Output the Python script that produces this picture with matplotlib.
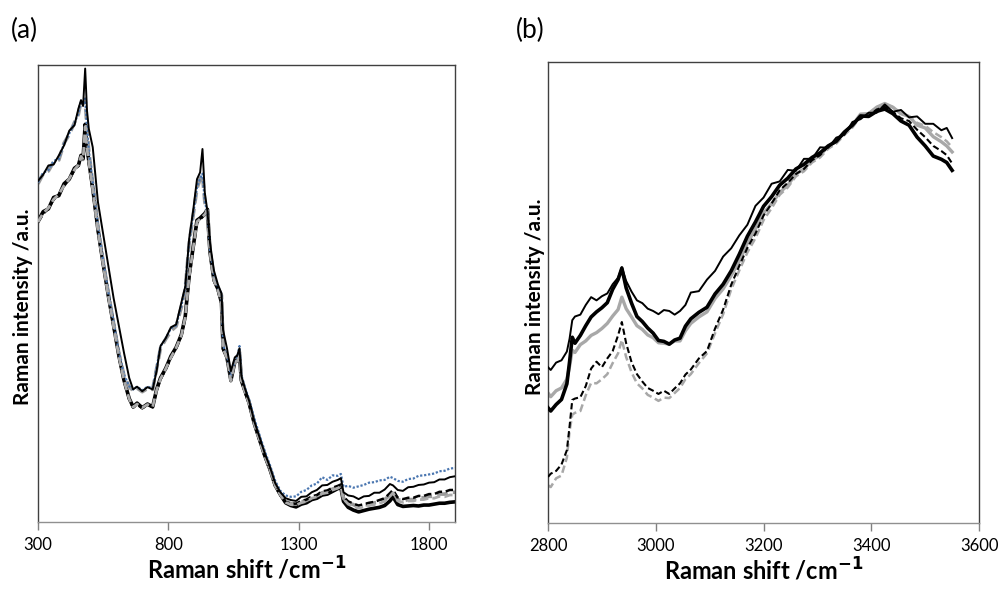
import matplotlib
matplotlib.use("Agg")
import matplotlib.pyplot as plt

plt.rcParams['font.family'] = ['Lato', 'DejaVu Sans']

# ---------------- Panel (a) data ----------------
a_shift = [300, 320, 340, 360, 380, 400, 420, 440, 455, 465, 473, 481, 488, 495,
           510, 530, 550, 570, 590, 610, 630, 650, 665, 680, 700, 720, 740, 755,
           770, 790, 810, 830, 850, 865, 880, 895, 910, 922, 931, 940, 950, 960,
           975, 990, 1004, 1010, 1025, 1040, 1055, 1065, 1073, 1080, 1095, 1110,
           1130, 1150, 1170, 1190, 1210, 1230, 1250, 1270, 1290, 1310, 1330, 1350,
           1370, 1390, 1410, 1430, 1450, 1462, 1472, 1490, 1510, 1530, 1550, 1570,
           1590, 1610, 1630, 1650, 1662, 1680, 1700, 1720, 1740, 1760, 1780, 1800,
           1820, 1840, 1860, 1880, 1900]

# thin black solid (upper group)
a_black_thin = [74.6, 76.0, 78.0, 78.2, 80.2, 82.4, 85.6, 86.8, 90.4, 92.3, 91.0, 99.2, 90.0, 86.0,
                82.0, 70.0, 63.0, 56.0, 49.0, 43.0, 37.0, 31.5, 29.0, 29.6, 28.6, 29.5, 29.0, 33.0,
                38.5, 40.2, 42.6, 43.2, 48.0, 51.5, 62.0, 68.0, 75.0, 76.5, 81.6, 72.0, 68.0, 61.0,
                55.0, 52.0, 50.0, 42.0, 38.0, 33.0, 36.0, 36.5, 38.0, 32.0, 29.0, 26.5,
                22.0, 18.5, 15.0, 12.0, 8.5, 6.5, 5.2, 4.8, 4.6, 5.5, 5.6, 6.5,
                7.0, 8.0, 8.1, 8.8, 9.2, 9.6, 6.5, 5.8, 5.6, 5.0, 5.6, 5.7,
                6.4, 6.4, 7.1, 8.3, 8.0, 7.0, 6.8, 7.6, 7.7, 8.1, 8.2, 8.6,
                8.7, 9.3, 9.3, 9.8, 10.0]

# blue dotted (upper group)
a_blue = [74.3, 76.4, 77.0, 79.0, 79.4, 82.8, 85.0, 87.3, 89.4, 92.1, 91.4, 92.6, 86.2, 81.2,
          74.3, 64.8, 57.3, 50.3, 43.8, 37.3, 32.2, 29.7, 29.0, 29.6, 28.8, 29.6, 29.3, 33.8,
          38.4, 40.2, 42.4, 43.0, 47.3, 51.3, 61.2, 67.2, 73.2, 75.2, 76.2, 70.2, 67.5, 59.6,
          54.0, 51.5, 50.0, 38.6, 36.5, 32.0, 35.6, 36.2, 38.5, 32.2, 29.2, 26.8,
          22.6, 19.0, 15.5, 12.4, 9.0, 6.8, 5.8, 5.5, 5.6, 6.6, 7.0, 8.0,
          8.4, 9.8, 9.2, 10.2, 10.1, 10.5, 7.7, 7.9, 7.5, 7.8, 8.1, 8.6,
          8.7, 9.1, 9.2, 9.9, 9.6, 9.0, 8.8, 9.4, 9.5, 10.1, 10.2, 10.4,
          10.6, 11.1, 11.2, 11.7, 11.8]

# grey dashed (upper group)
a_grey_up = [74.0, 76.2, 76.8, 78.8, 79.2, 82.9, 84.8, 87.4, 89.2, 92.0, 91.5, 92.5, 86.0, 81.0,
             74.0, 64.5, 57.0, 50.0, 43.5, 37.0, 32.0, 29.5, 28.8, 29.3, 28.5, 29.2, 29.0, 33.5,
             38.0, 40.0, 41.8, 42.8, 47.0, 51.0, 61.0, 67.0, 73.0, 75.0, 76.0, 70.0, 67.0, 59.2,
             53.6, 51.2, 49.6, 38.2, 36.2, 31.6, 35.2, 35.7, 37.2, 31.6, 28.6, 26.2,
             21.7, 18.2, 14.7, 11.7, 8.2, 6.1, 4.6, 4.0, 3.9, 4.4, 4.7, 5.4,
             5.7, 6.4, 6.6, 7.2, 7.6, 8.0, 5.2, 4.2, 3.8, 3.2, 3.7, 3.8,
             4.2, 4.3, 4.9, 5.9, 6.6, 4.9, 4.6, 4.9, 4.9, 5.3, 5.3, 5.6,
             5.6, 6.1, 6.1, 6.5, 6.5]

# thick black solid (lower group)
a_black_thick = [65.8, 67.9, 68.5, 71.0, 71.4, 74.0, 75.0, 77.4, 78.0, 80.2, 79.5, 87.0, 82.0, 79.0,
                 73.0, 64.0, 56.5, 49.5, 43.0, 36.5, 31.0, 27.0, 25.2, 26.0, 25.0, 25.8, 25.2, 29.0,
                 31.5, 33.6, 36.3, 38.2, 41.0, 45.0, 54.0, 60.0, 66.0, 66.5, 67.0, 67.5, 68.4, 59.0,
                 53.0, 51.0, 48.0, 38.0, 36.0, 31.0, 35.0, 35.5, 36.5, 31.0, 28.5, 26.0,
                 21.5, 18.0, 14.5, 11.5, 8.0, 6.0, 4.2, 3.6, 3.3, 3.9, 4.2, 4.9,
                 5.2, 5.9, 6.1, 6.7, 7.3, 7.5, 4.5, 3.2, 2.6, 2.2, 2.5, 2.8,
                 3.0, 3.2, 3.6, 4.6, 5.5, 3.8, 3.4, 3.5, 3.6, 3.5, 3.7, 3.7,
                 3.9, 4.1, 4.1, 4.3, 4.4]

# black dashed (lower group)
a_black_dash = [65.5, 67.4, 68.6, 70.5, 71.6, 73.5, 75.0, 77.0, 78.0, 79.9, 79.2, 86.0, 81.5, 78.5,
                72.5, 63.6, 56.2, 49.2, 42.7, 36.2, 30.8, 26.8, 25.0, 25.7, 24.9, 25.6, 25.1, 28.7,
                31.2, 33.4, 35.9, 38.0, 40.7, 44.7, 53.5, 59.5, 65.5, 66.2, 66.7, 67.2, 68.0, 58.7,
                52.7, 50.7, 47.7, 37.8, 35.8, 30.8, 34.8, 35.2, 36.2, 30.8, 28.2, 25.8,
                21.3, 17.8, 14.3, 11.3, 7.8, 5.8, 4.4, 4.0, 4.0, 4.6, 4.9, 5.6,
                5.9, 6.7, 6.9, 7.5, 7.9, 8.2, 5.5, 4.5, 4.0, 3.6, 3.9, 4.2,
                4.4, 4.8, 5.2, 6.3, 7.0, 5.3, 5.0, 5.3, 5.3, 5.7, 5.7, 6.1,
                6.1, 6.6, 6.6, 7.0, 7.0]

# grey dashed (lower group)
a_grey_low = [65.6, 67.6, 68.7, 70.6, 71.7, 73.6, 75.1, 77.1, 78.1, 80.0, 79.3, 86.5, 81.7, 78.7,
              72.7, 63.8, 56.3, 49.3, 42.8, 36.3, 30.9, 26.9, 25.1, 25.8, 25.0, 25.7, 25.2, 28.8,
              31.3, 33.5, 36.0, 38.1, 40.8, 44.8, 53.7, 59.7, 65.7, 66.3, 66.8, 67.3, 68.2, 58.8,
              52.8, 50.8, 47.8, 37.9, 35.9, 30.9, 34.9, 35.3, 36.3, 30.9, 28.3, 25.9,
              21.4, 17.9, 14.4, 11.4, 7.9, 5.9, 4.3, 3.8, 3.7, 4.2, 4.5, 5.2,
              5.5, 6.2, 6.4, 7.0, 7.4, 7.8, 5.0, 3.9, 3.4, 3.0, 3.3, 3.6,
              3.8, 4.1, 4.5, 5.6, 6.4, 4.6, 4.3, 4.6, 4.6, 4.9, 4.9, 5.2,
              5.2, 5.6, 5.5, 5.9, 5.9]

a_ticks = [300, 800, 1300, 1800]

# ---------------- Panel (b) data ----------------
b_shift = [2800, 2805, 2815, 2825, 2835, 2840, 2845, 2850, 2860, 2870, 2880, 2890, 2900,
           2910, 2920, 2930, 2937, 2945, 2955, 2965, 2975, 2985, 2995, 3005, 3015, 3025,
           3035, 3045, 3055, 3065, 3080, 3095, 3110, 3125, 3140, 3155, 3170, 3185, 3200,
           3215, 3230, 3245, 3260, 3275, 3290, 3305, 3320, 3335, 3350, 3365, 3380, 3395,
           3410, 3425, 3440, 3455, 3470, 3485, 3500, 3515, 3530, 3540, 3550]

b_black_thin = [33.8, 33.2, 34.8, 35.3, 37.2, 40.0, 44.0, 44.8, 45.2, 47.3, 49.0, 48.3, 49.2,
                49.8, 51.8, 53.2, 55.5, 52.5, 50.2, 48.3, 47.7, 46.5, 46.0, 45.3, 46.2, 46.0,
                45.2, 46.0, 47.3, 50.0, 50.3, 52.8, 54.7, 57.8, 59.6, 62.4, 64.7, 68.8, 70.6,
                73.6, 74.1, 76.6, 76.4, 79.0, 79.0, 81.5, 81.4, 83.6, 84.2, 87.0, 87.6, 89.0,
                89.0, 90.8, 89.2, 89.6, 88.0, 88.2, 86.6, 86.6, 85.2, 85.7, 83.5]

b_black_thick = [25.0, 24.3, 25.7, 26.8, 30.2, 35.0, 40.3, 39.0, 40.7, 42.8, 44.7, 45.8, 46.7,
                 47.8, 50.7, 52.8, 55.3, 51.0, 47.7, 44.8, 43.7, 42.3, 41.2, 39.6, 39.4, 38.8,
                 39.7, 40.1, 42.7, 44.3, 45.7, 46.8, 49.7, 51.8, 54.7, 58.3, 62.2, 65.3, 68.7,
                 70.8, 73.3, 74.8, 76.8, 77.8, 79.3, 80.3, 81.8, 82.8, 84.8, 86.3, 88.3, 88.2,
                 89.3, 89.8, 88.8, 87.2, 86.3, 83.7, 81.8, 79.6, 78.9, 78.2, 76.5]

b_grey = [28.2, 27.4, 28.7, 29.3, 31.2, 34.0, 37.5, 37.0, 38.7, 39.5, 40.7, 41.3, 42.2,
          43.3, 44.9, 46.3, 49.0, 46.5, 44.7, 42.8, 42.0, 40.8, 40.2, 39.1, 39.0, 38.8,
          39.5, 39.5, 41.7, 43.3, 44.7, 45.8, 48.7, 50.8, 53.7, 56.8, 60.7, 63.8, 67.2,
          69.3, 71.7, 73.3, 75.7, 76.8, 78.7, 79.8, 81.7, 82.8, 84.7, 86.3, 88.7, 88.8,
          90.2, 91.0, 90.2, 88.8, 88.2, 86.3, 85.7, 83.8, 82.7, 81.8, 80.5]

b_black_dash = [10.0, 10.7, 11.3, 12.7, 15.8, 21.0, 26.7, 27.0, 27.3, 29.7, 33.5, 35.0, 33.8,
                35.7, 37.3, 40.7, 43.6, 39.0, 34.9, 32.3, 30.7, 29.3, 28.7, 28.0, 28.7, 28.0,
                29.2, 30.3, 32.2, 33.3, 35.7, 37.3, 42.2, 46.3, 51.7, 55.8, 59.7, 62.8, 66.7,
                69.3, 72.2, 73.8, 75.7, 76.8, 78.7, 79.8, 81.7, 82.8, 84.7, 86.3, 88.2, 88.3,
                89.7, 90.3, 89.2, 87.8, 87.2, 85.3, 83.7, 81.8, 80.7, 79.8, 78.0]

b_grey_dash = [8.2, 7.8, 9.7, 10.3, 14.2, 20.0, 23.5, 23.9, 24.3, 27.7, 30.4, 30.3, 31.2,
               32.3, 34.7, 36.8, 39.7, 36.0, 32.7, 30.3, 29.2, 27.8, 27.2, 26.5, 27.2, 27.1,
               28.2, 29.3, 31.2, 32.3, 34.7, 36.8, 41.2, 45.3, 50.7, 54.8, 58.7, 61.8, 65.7,
               68.3, 71.2, 72.8, 75.2, 76.3, 78.2, 79.3, 81.2, 82.3, 84.2, 85.8, 88.2, 88.8,
               90.2, 90.8, 90.2, 88.8, 88.2, 86.8, 86.2, 84.8, 83.7, 82.8, 81.5]

b_ticks = [2800, 3000, 3200, 3400, 3600]

# ---------------- Figure ----------------
fig = plt.figure(figsize=(10.05, 5.89), dpi=100)
axA = fig.add_axes([0.0378, 0.1138, 0.415, 0.776])
axB = fig.add_axes([0.5453, 0.1120, 0.4289, 0.7827])

dash = (0, (3, 1.5))

axA.plot(a_shift, a_black_thick, color='black', lw=2.6, zorder=2)
axA.plot(a_shift, a_black_dash, color='black', lw=1.8, ls=dash, zorder=3)
axA.plot(a_shift, a_grey_low, color='#aaaaaa', lw=2.0, ls=dash, zorder=4)
axA.plot(a_shift, a_grey_up, color='#9a9a9a', lw=2.6, ls=dash, zorder=2)
axA.plot(a_shift, a_blue, color='#4a76b0', lw=1.6, ls=(0, (1, 0.8)), zorder=3)
axA.plot(a_shift, a_black_thin, color='black', lw=1.4, zorder=5)

axB.plot(b_shift, b_grey, color='#a8a8a8', lw=2.4, zorder=2)
axB.plot(b_shift, b_black_thick, color='black', lw=2.6, zorder=3)
axB.plot(b_shift, b_black_thin, color='black', lw=1.4, zorder=4)
axB.plot(b_shift, b_grey_dash, color='#a8a8a8', lw=1.8, ls=(0, (3, 1.5)), zorder=2)
axB.plot(b_shift, b_black_dash, color='black', lw=1.5, ls=(0, (3, 1.5)), zorder=3)

for ax, xl, ticks in [(axA, (300, 1900), a_ticks), (axB, (2800, 3600), b_ticks)]:
    ax.set_xlim(*xl)
    ax.set_ylim(0, 100)
    ax.set_xticks(ticks)
    ax.set_yticks([])
    ax.tick_params(axis='x', direction='out', length=6, width=1, color='#808080',
                   labelsize=12, pad=5)
    for s in ax.spines.values():
        s.set_color('#404040')
        s.set_linewidth(1.0)
    ax.spines['bottom'].set_color('#909090')
    ax.set_xlabel('Raman shift /cm$^{\\mathbf{-1}}$', fontsize=17, fontweight='bold', labelpad=2)

axA.set_ylabel('Raman intensity /a.u.', fontsize=15, fontweight='bold')
axB.set_ylabel('Raman intensity /a.u.', fontsize=15, fontweight='bold')
axA.yaxis.set_label_coords(-0.012, 0.47)
axB.yaxis.set_label_coords(-0.006, 0.49)

fig.text(0.011, 0.948, '(a)', fontsize=19, ha='left', va='center')
fig.text(0.513, 0.948, '(b)', fontsize=19, ha='left', va='center')

fig.savefig('out.png', dpi=100)
